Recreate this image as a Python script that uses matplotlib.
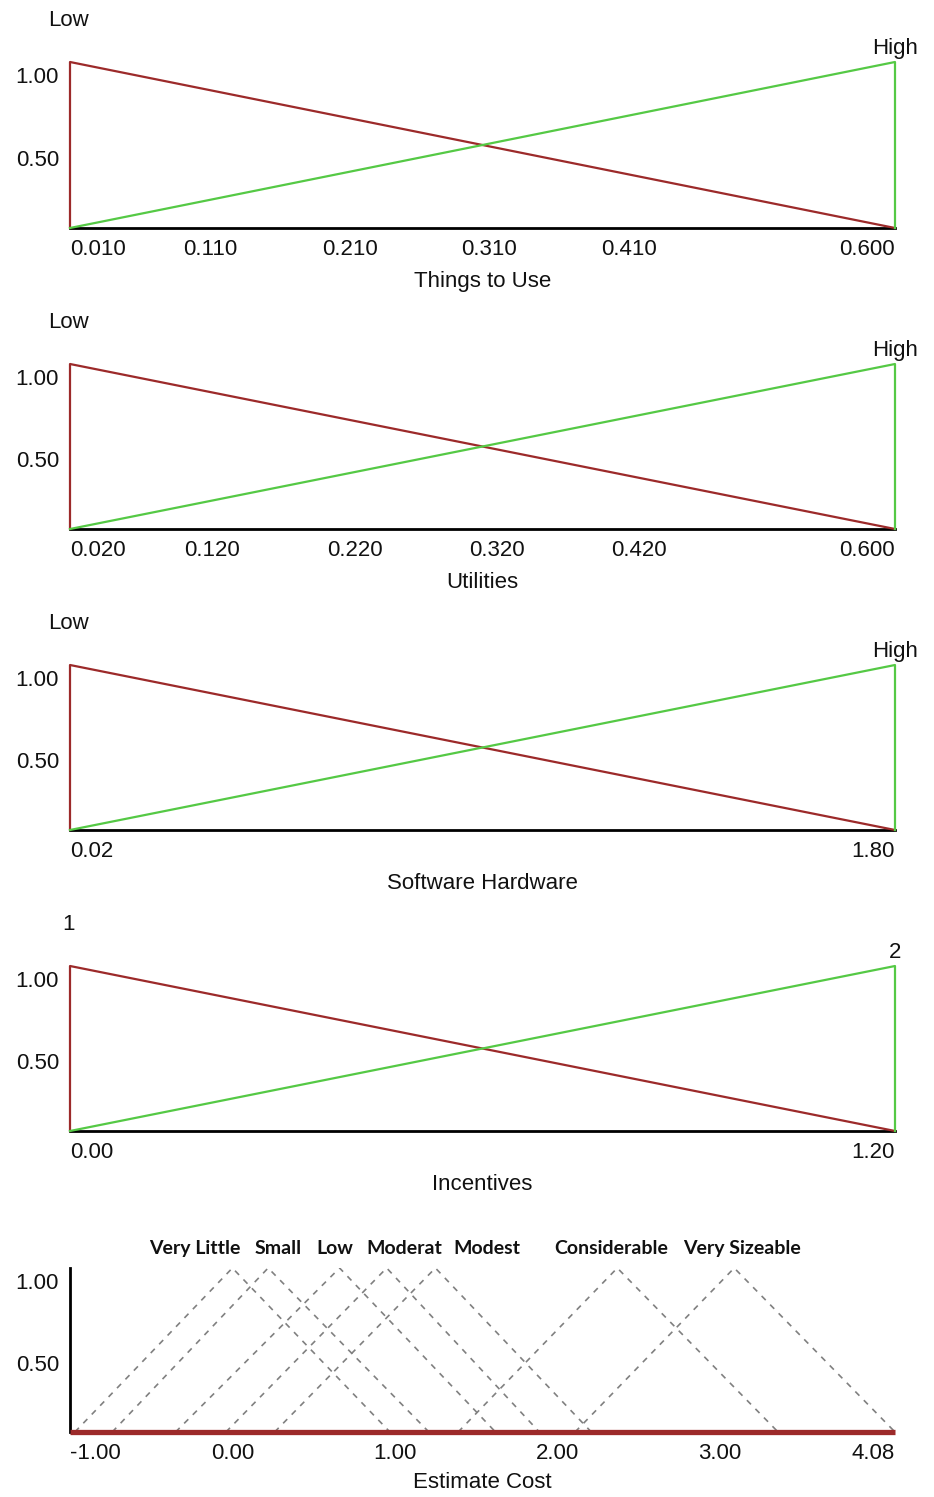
import numpy as np
import matplotlib
matplotlib.use('Agg')
import matplotlib.pyplot as plt
import matplotlib.transforms as mtransforms

plt.rcParams['font.family'] = ['Liberation Sans', 'DejaVu Sans']

# input variables: domain limits, tick values, tick labels, term names
var_names = ['Things to Use', 'Utilities', 'Software Hardware', 'Incentives']
var_ranges = [(0.010, 0.600), (0.020, 0.600), (0.02, 1.80), (0.00, 1.20)]
var_ticks = [
    [0.010, 0.110, 0.210, 0.310, 0.410, 0.600],
    [0.020, 0.120, 0.220, 0.320, 0.420, 0.600],
    [0.02, 1.80],
    [0.00, 1.20],
]
var_ticklabels = [
    ['0.010', '0.110', '0.210', '0.310', '0.410', '0.600'],
    ['0.020', '0.120', '0.220', '0.320', '0.420', '0.600'],
    ['0.02', '1.80'],
    ['0.00', '1.20'],
]
var_terms = [('Low', 'High'), ('Low', 'High'), ('Low', 'High'), ('1', '2')]

# membership degrees at (lo, lo, hi) and (lo, hi, hi)
low_mf = [0.0, 1.0, 0.0]
high_mf = [0.0, 1.0, 0.0]

# output variable: triangular terms (left foot, peak, right foot)
cost_terms = ['Very Little', 'Small', 'Low', 'Moderat', 'Modest', 'Considerable', 'Very Sizeable']
cost_left = [-0.97, -0.74, -0.35, -0.04, 0.26, 1.39, 2.11]
cost_peak = [0.00, 0.22, 0.66, 0.95, 1.25, 2.37, 3.09]
cost_right = [0.97, 1.21, 1.62, 1.89, 2.21, 3.36, 4.08]
cost_label_x = [-0.23, 0.28, 0.63, 1.06, 1.57, 2.33, 3.14]
cost_range = (-1.00, 4.08)
cost_ticks = [-1.00, 0.00, 1.00, 2.00, 3.00, 4.08]
cost_ticklabels = ['-1.00', '0.00', '1.00', '2.00', '3.00', '4.08']

RED = '#9c2a2a'
GREEN = '#55c945'
TXT = '#111111'

fig = plt.figure(figsize=(9.34, 14.97), dpi=100)

bases = [228, 529, 830, 1131, 1432]
peaks = [62, 364, 665, 966, 1268]
H = 1497.0
left, width = 70 / 934.0, 825 / 934.0


def style_axis(ax, ticks, labels, xlabel):
    ax.set_ylim(0, 1.0)
    for s in ['top', 'right', 'left']:
        ax.spines[s].set_visible(False)
    ax.spines['bottom'].set_linewidth(2.0)
    ax.spines['bottom'].set_color('black')
    ax.set_yticks([1.0, 0.5])
    ax.set_yticklabels(['1.00', '0.50'], va='top')
    ax.set_xticks(ticks)
    tl = ax.set_xticklabels(labels)
    tl[0].set_ha('left')
    tl[-1].set_ha('right')
    ax.tick_params(length=0, labelsize=16, colors=TXT)
    ax.tick_params(axis='y', pad=8)
    ax.tick_params(axis='x', pad=8)
    ax.set_xlabel(xlabel, fontsize=16, labelpad=8, color=TXT)
    ax.patch.set_alpha(0)
    shift = mtransforms.ScaledTranslation(0, -3.5 / 72, fig.dpi_scale_trans)
    for t in ax.get_yticklabels():
        t.set_transform(t.get_transform() + shift)


for i in range(4):
    ax = fig.add_axes([left, 1 - bases[i] / H, width, (bases[i] - peaks[i]) / H])
    lo, hi = var_ranges[i]
    ax.plot([lo, lo, hi], low_mf, color=RED, lw=1.6, clip_on=False, zorder=3)
    ax.plot([lo, hi, hi], high_mf, color=GREEN, lw=1.6, clip_on=False, zorder=3)
    ax.set_xlim(lo, hi)
    style_axis(ax, var_ticks[i], var_ticklabels[i], var_names[i])
    ax.annotate(var_terms[i][0], xy=(lo, 1.0), xytext=(-1, 30), textcoords='offset points',
                ha='center', va='center', fontsize=16, color=TXT, annotation_clip=False)
    ax.annotate(var_terms[i][1], xy=(hi, 1.0), xytext=(0, 10), textcoords='offset points',
                ha='center', va='center', fontsize=16, color=TXT, annotation_clip=False)

# output panel
ax = fig.add_axes([left, 1 - bases[4] / H, width, (bases[4] - peaks[4]) / H])
for l, p, r in zip(cost_left, cost_peak, cost_right):
    ax.plot([l, p, r], [0, 1, 0], color='#808080', lw=1.2, dashes=(3.5, 3.8), zorder=2)
ax.set_xlim(*cost_range)
style_axis(ax, cost_ticks, cost_ticklabels, 'Estimate Cost')
ax.xaxis.labelpad = 6
ax.spines['left'].set_visible(True)
ax.spines['left'].set_linewidth(2.0)
ax.spines['left'].set_color('black')
ax.spines['bottom'].set_color(RED)
ax.spines['bottom'].set_linewidth(3.8)
ax.spines['bottom'].set_capstyle('butt')
for name, x in zip(cost_terms, cost_label_x):
    ax.annotate(name, xy=(x, 1.0), xytext=(0, 14), textcoords='offset points',
                ha='center', va='center', fontsize=14, fontweight='bold',
                family=['Lato', 'DejaVu Sans'], color=TXT, annotation_clip=False)

fig.savefig('out.png', dpi=100, facecolor='white')
